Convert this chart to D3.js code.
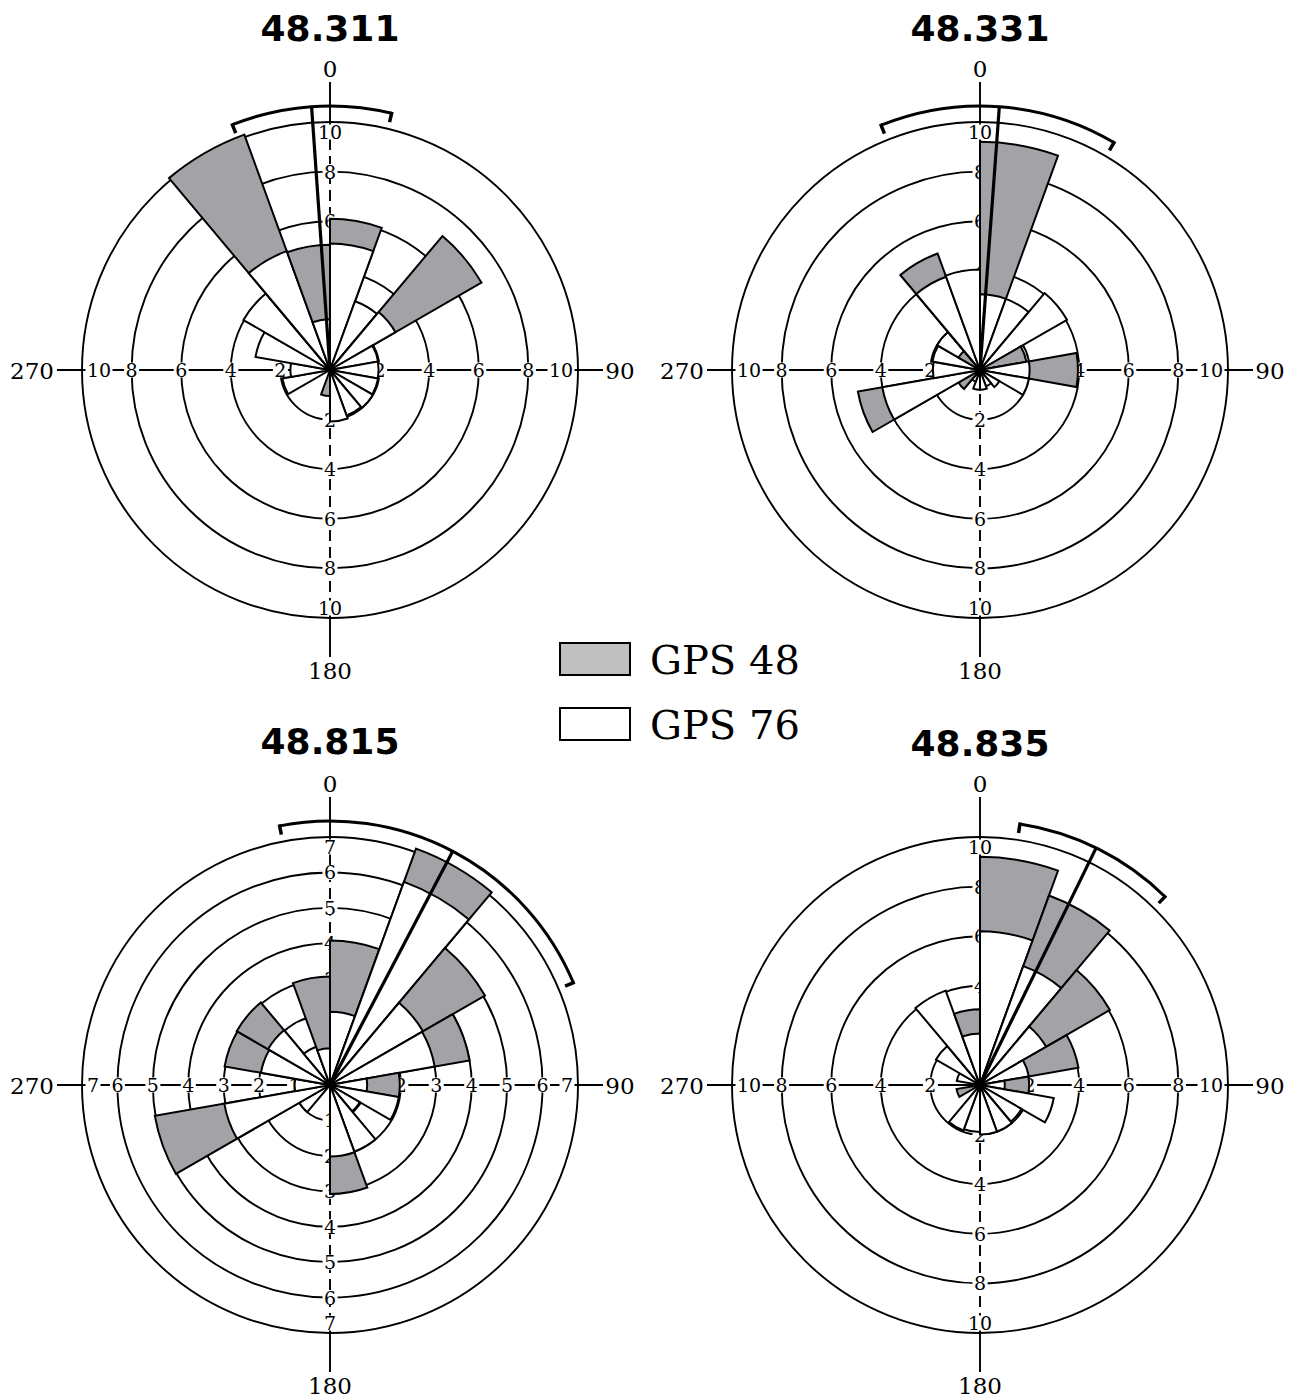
<!DOCTYPE html>
<html><head><meta charset="utf-8">
<script src="https://cdn.jsdelivr.net/npm/d3@7"></script>
<style>body{margin:0;background:#fff}</style>
</head><body>
<svg id="chart" width="1299" height="1397"></svg>
<script>
// ---- data ----
const binStarts = [0,20,40,60,80,100,120,140,160,180,200,220,240,260,280,300,320,340];
const binWidth = 20;
const siteNames = ["48.311","48.331","48.815","48.835"];
const seriesNames = ["GPS 48","GPS 76"];

const gps48_311 = [6.1,0,7.05,0,0,0,0,0,0,1.05,0,0,0,0,0,0,10.1,5.05];
const gps76_311 = [5.1,2.95,3.05,1.97,1.96,1.97,2.0,1.95,2.08,0,0,0,1.95,1.6,3.05,4.03,5.1,2.05];

const gps48_331 = [9.2,0,0,1.9,3.95,0,0,0,0,0,0,1.0,5.0,0,0,1.0,5.0,0];
const gps76_331 = [3.05,3.05,4.05,0,2.0,2.0,0.9,0.7,0.8,0.8,0.5,0,4.0,1.9,1.95,2.0,4.0,4.05];

const gps48_815 = [4.08,7.1,5.05,4.0,1.97,0,0,0,3.08,0,0,0,5.02,0,3.02,3.04,0,3.06];
const gps76_815 = [2.07,6.1,3.03,3.0,1.05,1.97,0.97,2.0,2.02,0,0,1.0,3.03,1.0,1.98,2.02,1.15,1.04];

const gps48_835 = [9.2,8.13,6.05,4.03,1.98,0,0,0,0,0,0,0,0.96,0,0,0,0,3.05];
const gps76_835 = [6.2,5.1,3.08,2.0,1.0,3.02,1.93,2.0,2.0,1.9,1.95,0,0,0.3,0.95,2.05,4.05,2.08];

const radialMax = [10,10,7,10];
const radialTicks = [[2,4,6,8,10],[2,4,6,8,10],[1,2,3,4,5,6,7],[2,4,6,8,10]];
const meanDirection = [356, 4.2, 27.7, 26.1];
const ciLow = [338.3, 338, 349, 8.7];
const ciHigh = [13.5, 30.5, 67.2, 44.5];
const compassLabels = ["0","90","180","270"];

// ---- layout / style ----
const gps48Series = [gps48_311, gps48_331, gps48_815, gps48_835];
const gps76Series = [gps76_311, gps76_331, gps76_815, gps76_835];
const centers = [[330,370],[980,370],[330,1085],[980,1085]];
const titleY = [41, 41, 754, 756];
const R = 248, ciR = 264;
const barGray = "#a3a3a7", legendGray = "#c0c0c0";
const rad = d => d * Math.PI / 180;

const svg = d3.select("#chart");

siteNames.forEach((name, i) => {
  const [cx, cy] = centers[i];
  const r = d3.scaleLinear().domain([0, radialMax[i]]).range([0, R]);
  const ticks = radialTicks[i];

  svg.append("text").attr("x", cx).attr("y", titleY[i])
    .attr("text-anchor","middle").attr("font-family","DejaVu Sans")
    .attr("font-weight","bold").attr("font-size",36).text(name);

  const g = svg.append("g").attr("transform", `translate(${cx},${cy})`);

  // rings
  g.selectAll("circle.ring").data(ticks).join("circle").attr("class","ring")
    .attr("r", d => r(d)).attr("fill","none").attr("stroke","#000").attr("stroke-width",1.9);

  // axes
  g.append("line").attr("x1",-273).attr("x2",273).attr("y1",0).attr("y2",0)
    .attr("stroke","#000").attr("stroke-width",1.9);
  g.append("line").attr("x1",0).attr("x2",0).attr("y1",-288).attr("y2",-R)
    .attr("stroke","#000").attr("stroke-width",1.9);
  g.append("line").attr("x1",0).attr("x2",0).attr("y1",R).attr("y2",287)
    .attr("stroke","#000").attr("stroke-width",1.9);
  g.append("line").attr("x1",0).attr("x2",0).attr("y1",-R).attr("y2",R)
    .attr("stroke","#000").attr("stroke-width",1.9).attr("stroke-dasharray","11,6");

  // radial tick labels (with white background boxes)
  const labs = [];
  ticks.forEach(v => {
    const last = v === radialMax[i];
    const s = String(v);
    const rv = last ? R - 10 : r(v);
    const rh = last ? R - 5 - 6 * s.length : r(v);
    labs.push({x:0, y:-rv, t:s}, {x:0, y:rv, t:s}, {x:-rh, y:0, t:s}, {x:rh, y:0, t:s});
  });
  const lab = g.selectAll("g.tick").data(labs).join("g").attr("class","tick");
  lab.append("rect")
    .attr("x", d => d.x - 6 * d.t.length - 1.5).attr("y", d => d.y - 7.5)
    .attr("width", d => 12 * d.t.length + 3).attr("height", 15)
    .attr("fill","#fff");
  lab.append("text")
    .attr("x", d => d.x).attr("y", d => d.y + 7)
    .attr("text-anchor","middle").attr("font-family","DejaVu Serif").attr("font-size",19)
    .attr("fill","#000").text(d => d.t);

  // compass labels
  const cl = [{x:0,y:-302},{x:290,y:0},{x:0,y:300},{x:-298,y:0}];
  g.selectAll("text.compass").data(compassLabels).join("text").attr("class","compass")
    .attr("x", (d,k) => cl[k].x).attr("y", (d,k) => cl[k].y + 8.5)
    .attr("text-anchor","middle").attr("font-family","DejaVu Serif").attr("font-size",23)
    .text(d => d);

  // bars: overlapping, larger drawn behind
  const arc = d3.arc().innerRadius(0);
  const bars = [];
  binStarts.forEach((b, k) => {
    const pair = [
      {v: gps48Series[i][k], fill: barGray},
      {v: gps76Series[i][k], fill: "#fff"}
    ].filter(d => d.v > 0).sort((a, b2) => b2.v - a.v);
    pair.forEach(p => bars.push({start: b, v: p.v, fill: p.fill}));
  });
  g.selectAll("path.bar").data(bars).join("path").attr("class","bar")
    .attr("d", d => arc({outerRadius: r(d.v), startAngle: rad(d.start), endAngle: rad(d.start + binWidth)}))
    .attr("fill", d => d.fill).attr("stroke","#000").attr("stroke-width",2)
    .attr("stroke-linejoin","miter");

  // mean direction
  const m = rad(meanDirection[i]);
  g.append("line").attr("x1",0).attr("y1",0)
    .attr("x2", ciR * Math.sin(m)).attr("y2", -ciR * Math.cos(m))
    .attr("stroke","#000").attr("stroke-width",3.2);

  // confidence arc
  let a0 = ciLow[i], a1 = ciHigh[i];
  if (a1 < a0) a1 += 360;
  const p = d3.path();
  p.arc(0, 0, ciR, rad(a0 - 90), rad(a1 - 90));
  g.append("path").attr("d", p.toString()).attr("fill","none")
    .attr("stroke","#000").attr("stroke-width",3);
  [a0, a1].forEach(a => {
    const t = rad(a);
    g.append("line")
      .attr("x1", (ciR + 1.5) * Math.sin(t)).attr("y1", -(ciR + 1.5) * Math.cos(t))
      .attr("x2", (ciR - 9) * Math.sin(t)).attr("y2", -(ciR - 9) * Math.cos(t))
      .attr("stroke","#000").attr("stroke-width",3.5);
  });
});

// legend
const legendFill = [legendGray, "#fff"];
const legendY = [643, 708];
const lg = svg.append("g");
lg.selectAll("rect").data(seriesNames).join("rect")
  .attr("x",560).attr("y",(d,k)=>legendY[k]).attr("width",70).attr("height",32)
  .attr("fill",(d,k)=>legendFill[k]).attr("stroke","#000").attr("stroke-width",2);
lg.selectAll("text").data(seriesNames).join("text")
  .attr("x",650).attr("y",(d,k)=>legendY[k]+31)
  .attr("font-family","DejaVu Serif").attr("font-size",40)
  .text(d=>d);
</script>
</body></html>
